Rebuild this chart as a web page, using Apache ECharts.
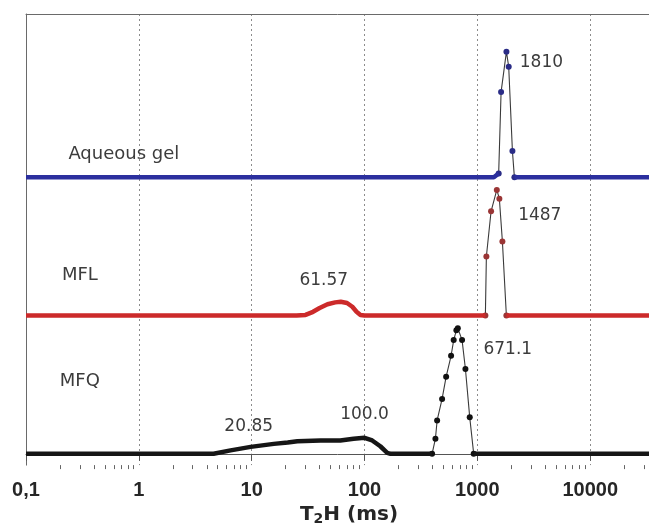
<!DOCTYPE html>
<html><head><meta charset="utf-8">
<script src="https://cdn.jsdelivr.net/npm/echarts@6/dist/echarts.min.js"></script>
<style>html,body{margin:0;padding:0;background:#fff;overflow:hidden}#c{width:649px;height:531px}</style>
</head><body><div id="c"></div>
<script>
// ---- data ----
const xMajorTicks = [0.1, 1, 10, 100, 1000, 10000];
const xMinorTicks = [0.2,0.3,0.4,0.5,0.6,0.7,0.8,0.9, 2,3,4,5,6,7,8,9, 20,30,40,50,60,70,80,90,
  200,300,400,500,600,700,800,900, 2000,3000,4000,5000,6000,7000,8000,9000, 20000,30000];
const xMin = 0.1;
const xMax = 33200;

const sampleNames = ['Aqueous gel', 'MFL', 'MFQ'];

const gelT2  = [0.1, 0.3, 1, 3, 10, 30, 100, 300, 1000, 1400, 1545, 1623, 1810, 1896, 2045, 2130, 2500, 5000, 10000, 33200];
const gelAmp = [0, 0, 0, 0, 0, 0, 0, 0, 0, 0, 0.03, 0.68, 1.00, 0.88, 0.21, 0, 0, 0, 0, 0];

const mflT2  = [0.1, 0.3, 1, 3, 10, 25, 30, 35, 40, 47, 55, 61.57, 70, 78, 85, 92, 100, 300, 1000, 1178, 1202, 1323, 1487, 1567, 1667, 1808, 3000, 10000, 33200];
const mflAmp = [0, 0, 0, 0, 0, 0, 0.005, 0.03, 0.06, 0.09, 0.105, 0.11, 0.10, 0.07, 0.03, 0.005, 0, 0, 0, 0, 0.47, 0.83, 1.00, 0.93, 0.59, 0, 0, 0, 0];

const mfqT2  = [0.1, 0.3, 1, 3, 4.6, 6.5, 9.8, 15.7, 20.85, 25.4, 40.8, 61, 80, 100, 117, 138, 159, 170, 300, 397, 425, 440, 487, 529, 585, 617, 652, 671.1, 732, 784, 856, 928, 1000, 3000, 10000, 33200];
const mfqAmp = [0, 0, 0, 0, 0, 0.027, 0.055, 0.079, 0.09, 0.10, 0.106, 0.106, 0.12, 0.127, 0.106, 0.06, 0.008, 0, 0, 0, 0.12, 0.265, 0.437, 0.614, 0.78, 0.905, 0.984, 1.00, 0.905, 0.675, 0.29, 0, 0, 0, 0, 0];

const gelPeakLabels = ['1810'];
const mflPeakLabels = ['61.57', '1487'];
const mfqPeakLabels = ['20.85', '100.0', '671.1'];

// ---- presentation ----
const samples = [
  {name: sampleNames[0], t2: gelT2, amp: gelAmp, labels: gelPeakLabels, off: 2.2, band: '#2b2f9e', dot: '#2a2c86',
   nameOffset: [-15, -23], labelOffsets: [[35, 11]]},
  {name: sampleNames[1], t2: mflT2, amp: mflAmp, labels: mflPeakLabels, off: 1.1, band: '#cc2a2a', dot: '#9a3535',
   nameOffset: [-59, -40], labelOffsets: [[-17, -21], [43, 26]]},
  {name: sampleNames[2], t2: mfqT2, amp: mfqAmp, labels: mfqPeakLabels, off: 0, band: '#161616', dot: '#111111',
   nameOffset: [-59, -72], labelOffsets: [[-39, -16], [0, -23], [50, 21]]}
];

function isFlat(amp, a, b) {
  if (a < 0 || b >= amp.length) return true;
  return amp[a] < 0.2 && amp[b] < 0.2 && Math.abs(amp[a] - amp[b]) < 0.1;
}

const series = [];
samples.forEach(s => {
  const full = s.t2.map((x, i) => {
    const inBand = isFlat(s.amp, i - 1, i) && isFlat(s.amp, i, i + 1);
    return inBand ? {value: [x, s.amp[i] + s.off], symbol: 'none'} : {value: [x, s.amp[i] + s.off]};
  });
  const band = [];
  for (let i = 0; i < s.t2.length; i++) {
    if (i > 0 && !isFlat(s.amp, i - 1, i)) band.push([s.t2[i], '-']);
    band.push([s.t2[i], s.amp[i] + s.off]);
  }
  const mp = s.labels.map((txt, k) => {
    const idx = s.t2.indexOf(Number(txt));
    return {name: txt, coord: [s.t2[idx], s.amp[idx] + s.off],
            label: {offset: s.labelOffsets[k], fontSize: 17}};
  });
  const oneIdx = s.t2.indexOf(1);
  mp.push({name: s.name, coord: [s.t2[oneIdx], s.amp[oneIdx] + s.off],
           label: {offset: s.nameOffset, fontSize: 18}});
  series.push({
    type: 'line', name: s.name + ' band', data: band, showSymbol: false, connectNulls: false,
    lineStyle: {width: 4.5, color: s.band}, itemStyle: {color: s.band}, z: 4, silent: true, animation: false
  });
  series.push({
    type: 'line', name: s.name, data: full, symbol: 'circle', symbolSize: 6, showSymbol: true,
    lineStyle: {width: 1.1, color: '#3a3a3a'}, itemStyle: {color: s.dot}, z: 3, animation: false,
    markPoint: {
      symbol: 'circle', symbolSize: 0, silent: true, animation: false,
      label: {show: true, position: 'inside', formatter: '{b}', color: '#3c3c3c',
              fontFamily: 'DejaVu Sans', fontSize: 17},
      data: mp
    }
  });
});

const chart = echarts.init(document.getElementById('c'));
chart.setOption({
  animation: false,
  backgroundColor: '#fff',
  grid: {left: 26, right: 0, top: 14, bottom: 62, show: false},
  xAxis: [{
    type: 'log', logBase: 10, min: xMin, max: xMax, gridIndex: 0, position: 'bottom',
    axisLine: {show: true, lineStyle: {color: '#555', width: 1}},
    axisTick: {show: true, length: 7, lineStyle: {color: '#555'}, customValues: xMajorTicks},
    axisLabel: {
      customValues: xMajorTicks,
      formatter: v => (Math.abs(v - 0.1) < 1e-9 ? '0,1' : String(Math.round(v))),
      fontFamily: 'Liberation Sans', fontWeight: 'bold', fontSize: 20, color: '#262626', margin: 15
    },
    splitLine: {show: true, lineStyle: {type: [2, 3], color: '#8c8c8c', width: 1}},
    name: '{a|T}{s|2}{a|H (ms)}', nameLocation: 'middle', nameGap: 38,
    nameTextStyle: {
      padding: [0, 0, 0, 23],
      rich: {
        a: {fontFamily: 'DejaVu Sans', fontWeight: 'bold', fontSize: 20, color: '#262626'},
        s: {fontFamily: 'DejaVu Sans', fontWeight: 'bold', fontSize: 14, color: '#262626', verticalAlign: 'bottom', padding: [8, 0, 0, 0]}
      }
    }
  }, {
    type: 'log', logBase: 10, min: xMin, max: xMax, gridIndex: 0, position: 'bottom',
    axisLine: {show: false}, axisLabel: {show: false}, splitLine: {show: false},
    axisTick: {show: true, length: 4, lineStyle: {color: '#666'}, customValues: xMinorTicks}
  }, {
    type: 'log', logBase: 10, min: xMin, max: xMax, gridIndex: 0, position: 'top',
    axisLine: {show: true, lineStyle: {color: '#6a6a6a', width: 1}},
    axisLabel: {show: false}, axisTick: {show: false}, splitLine: {show: false}
  }],
  yAxis: {
    type: 'value', min: -0.09, max: 3.5,
    axisLine: {show: true, lineStyle: {color: '#6a6a6a', width: 1}},
    axisTick: {show: false}, axisLabel: {show: false}, splitLine: {show: false}
  },
  series: series
});
</script>
</body></html>
